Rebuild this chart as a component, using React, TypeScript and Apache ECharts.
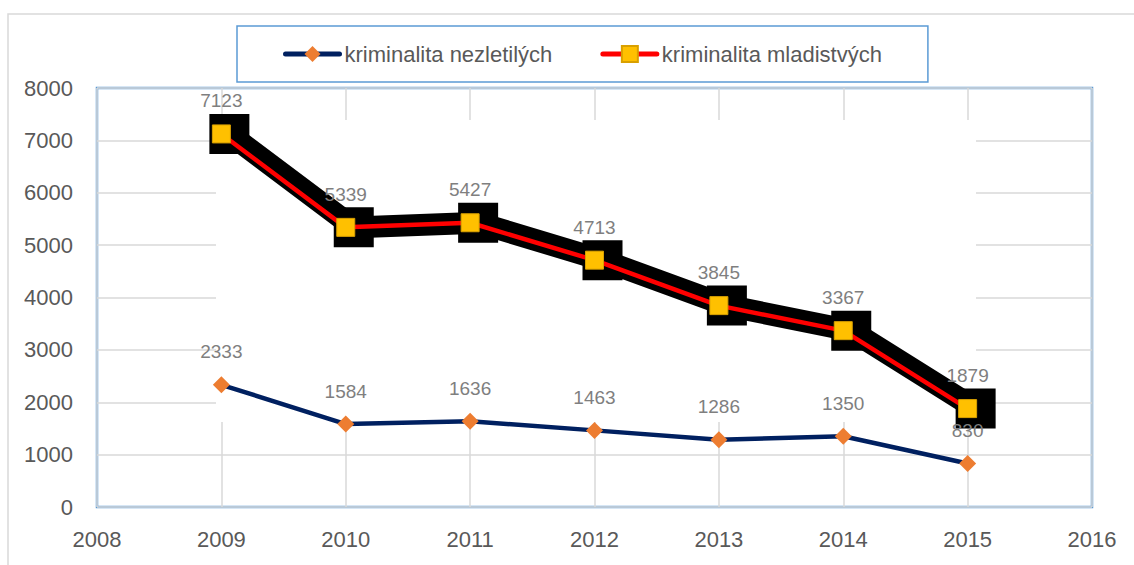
import React, { useEffect, useRef } from "react";
import * as echarts from "echarts";

const years = [2009, 2010, 2011, 2012, 2013, 2014, 2015];
const nezletili = [2333, 1584, 1636, 1463, 1286, 1350, 830];
const mladistvi = [7123, 5339, 5427, 4713, 3845, 3367, 1879];
const seriesNames = ["kriminalita nezletilých", "kriminalita mladistvých"];
const xMin = 2008;
const xMax = 2016;
const yMin = 0;
const yMax = 8000;
const yStep = 1000;

const FONT = "'Liberation Sans', Arial, sans-serif";

export default function App() {
  const ref = useRef<HTMLDivElement>(null);
  useEffect(() => {
    if (!ref.current) return;
    const chart = echarts.init(ref.current, null, { renderer: "svg" });
    const pts = (vals: number[]) => years.map((y, i) => [y, vals[i]]);
    const xAxisBase = {
      type: "value",
      min: xMin,
      max: xMax,
      interval: 1,
      axisLine: { show: false },
      axisTick: { show: false },
    };
    const yAxisBase = {
      type: "value",
      min: yMin,
      max: yMax,
      interval: yStep,
      axisLine: { show: false },
      axisTick: { show: false },
    };
    chart.setOption({
      animation: false,
      textStyle: { fontFamily: FONT },
      graphic: {
        elements: [
          {
            type: "rect",
            shape: { x: 8, y: 14, width: 1140, height: 570 },
            style: { fill: "none", stroke: "#D9D9D9", lineWidth: 1.5 },
            z: 0,
            silent: true,
          },
          {
            type: "rect",
            shape: { x: 216, y: 120, width: 760, height: 302 },
            style: { fill: "#FFFFFF" },
            z: 1,
            silent: true,
          },
        ],
      },
      legend: {
        left: 237,
        top: 26,
        data: seriesNames,
        padding: [17, 46],
        itemGap: 48,
        itemWidth: 54,
        itemHeight: 20,
        borderColor: "#5B9BD5",
        borderWidth: 1.5,
        lineStyle: { width: 5, cap: "round" },
        textStyle: { fontSize: 22, color: "#595959", fontFamily: FONT },
      },
      grid: [
        {
          left: 97,
          right: 42,
          top: 88,
          bottom: 58,
          show: true,
          borderColor: "#5B9BD5",
          borderWidth: 2.5,
          backgroundColor: "transparent",
        },
        { left: 105, right: 34, top: 88, bottom: 58, show: false },
      ],
      xAxis: [
        {
          ...xAxisBase,
          gridIndex: 0,
          splitLine: { show: true, lineStyle: { color: "#D9D9D9", width: 1.5 } },
          axisLabel: {
            margin: 21,
            fontSize: 22,
            color: "#595959",
            fontFamily: FONT,
            formatter: (v: number) => String(v),
          },
        },
        {
          ...xAxisBase,
          gridIndex: 1,
          show: false,
          splitLine: { show: false },
        },
      ],
      yAxis: [
        {
          ...yAxisBase,
          gridIndex: 0,
          splitLine: { show: true, lineStyle: { color: "#D9D9D9", width: 1.5 } },
          axisLabel: {
            margin: 24,
            fontSize: 22,
            color: "#595959",
            fontFamily: FONT,
            formatter: (v: number) => String(v),
          },
        },
        {
          ...yAxisBase,
          gridIndex: 1,
          show: false,
          splitLine: { show: false },
        },
      ],
      series: [
        {
          name: "stín",
          type: "line",
          xAxisIndex: 1,
          yAxisIndex: 1,
          z: 1.5,
          silent: true,
          clip: false,
          data: pts(mladistvi),
          symbol: "rect",
          symbolSize: 40,
          itemStyle: { color: "#000000" },
          lineStyle: { color: "#000000", width: 22, join: "miter" },
          label: { show: false },
        },
        {
          name: seriesNames[0],
          type: "line",
          z: 2,
          data: pts(nezletili),
          symbol: "diamond",
          symbolSize: 17,
          itemStyle: { color: "#ED7D31" },
          lineStyle: { color: "#002060", width: 4.5 },
          label: {
            show: true,
            position: "top",
            distance: 15,
            fontSize: 19,
            color: "#7F7F7F",
            fontFamily: FONT,
          },
        },
        {
          name: seriesNames[1],
          type: "line",
          z: 3,
          data: pts(mladistvi),
          symbol: "rect",
          symbolSize: 18,
          itemStyle: { color: "#FFC000", borderColor: "#D9A000", borderWidth: 1 },
          lineStyle: { color: "#FF0000", width: 4.5 },
          label: {
            show: true,
            position: "top",
            distance: 14,
            fontSize: 19,
            color: "#7F7F7F",
            fontFamily: FONT,
          },
        },
      ],
    });
    return () => chart.dispose();
  }, []);
  return (
    <div
      ref={ref}
      style={{ position: "absolute", left: 0, top: 0, width: 1134, height: 565, background: "#fff" }}
    />
  );
}
